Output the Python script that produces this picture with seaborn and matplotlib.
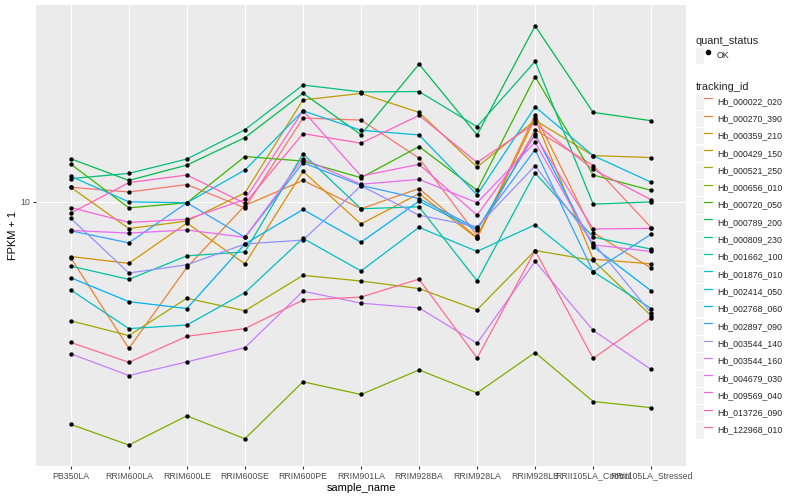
import numpy as np
import pandas as pd
import matplotlib
matplotlib.use('Agg')
import matplotlib.pyplot as plt
import seaborn as sns
from matplotlib.patches import Rectangle
from matplotlib.lines import Line2D
from matplotlib.legend_handler import HandlerTuple
from matplotlib.ticker import NullLocator, NullFormatter

# x categories
samples = ['PB350LA', 'RRIM600LA', 'RRIM600LE', 'RRIM600SE', 'RRIM600PE', 'RRIM901LA',
           'RRIM928BA', 'RRIM928LA', 'RRIM928LB', 'RRII105LA_Control', 'RRII105LA_Stressed']

# FPKM + 1 per gene, one value per sample
hb_000022_020 = [10.86, 10.57, 11.03, 9.64, 16.22, 16.03, 12.86, 8.21, 15.16, 12.32, 8.60]
hb_000270_390 = [7.22, 4.27, 6.83, 9.77, 11.30, 9.59, 10.78, 8.11, 16.53, 8.35, 6.80]
hb_000359_210 = [7.27, 6.99, 8.83, 6.97, 11.91, 8.78, 10.47, 8.08, 16.19, 7.16, 6.97]
hb_000429_150 = [10.86, 8.55, 8.93, 10.51, 18.02, 18.70, 16.76, 12.21, 16.00, 13.05, 12.90]
hb_000521_250 = [5.01, 4.60, 5.71, 5.31, 6.52, 6.31, 6.04, 5.34, 7.53, 7.11, 5.16]
hb_000656_010 = [2.75, 2.44, 2.89, 2.53, 3.52, 3.27, 3.77, 3.30, 4.17, 3.14, 3.03]
hb_000720_050 = [12.42, 9.64, 9.93, 12.98, 12.64, 11.48, 13.75, 10.67, 20.62, 11.66, 10.67]
hb_000789_200 = [12.81, 11.30, 12.35, 14.48, 18.73, 14.73, 22.17, 14.71, 27.65, 16.76, 15.97]
hb_000809_230 = [11.42, 11.77, 12.79, 15.16, 19.64, 18.87, 18.91, 15.43, 22.52, 9.85, 9.98]
hb_001662_100 = [6.88, 6.37, 7.30, 7.47, 13.18, 9.59, 9.70, 6.32, 11.80, 8.14, 7.59]
hb_001876_010 = [5.99, 4.79, 4.89, 5.90, 8.08, 6.69, 8.61, 7.49, 8.74, 6.66, 5.38]
hb_002414_050 = [11.57, 9.98, 9.93, 12.00, 16.91, 15.11, 14.71, 10.39, 17.31, 13.05, 11.18]
hb_002768_060 = [6.43, 5.60, 5.38, 7.82, 9.55, 7.90, 10.02, 8.48, 14.79, 7.70, 5.96]
hb_002897_090 = [8.44, 7.87, 9.93, 8.13, 12.52, 10.98, 10.17, 8.56, 13.51, 6.66, 8.28]
hb_003544_140 = [9.07, 6.61, 6.93, 7.82, 8.00, 10.95, 9.24, 8.64, 12.30, 7.88, 5.24]
hb_003544_160 = [4.14, 3.65, 3.95, 4.29, 5.95, 5.55, 5.40, 4.40, 7.07, 4.74, 3.78]
hb_004679_030 = [8.46, 8.33, 8.48, 8.13, 12.81, 11.05, 11.37, 9.93, 14.10, 7.78, 7.49]
hb_009569_040 = [9.66, 8.86, 9.02, 10.12, 16.91, 11.59, 12.40, 9.24, 14.65, 8.53, 8.56]
hb_013726_090 = [9.35, 11.16, 11.66, 9.89, 14.82, 14.02, 16.47, 12.54, 15.73, 12.04, 10.10]
hb_122968_010 = [4.42, 3.94, 4.58, 4.79, 5.65, 5.75, 6.38, 4.04, 7.53, 4.03, 5.10]

tracking_ids = ['Hb_000022_020', 'Hb_000270_390', 'Hb_000359_210', 'Hb_000429_150', 'Hb_000521_250',
                'Hb_000656_010', 'Hb_000720_050', 'Hb_000789_200', 'Hb_000809_230', 'Hb_001662_100',
                'Hb_001876_010', 'Hb_002414_050', 'Hb_002768_060', 'Hb_002897_090', 'Hb_003544_140',
                'Hb_003544_160', 'Hb_004679_030', 'Hb_009569_040', 'Hb_013726_090', 'Hb_122968_010']
series = [hb_000022_020, hb_000270_390, hb_000359_210, hb_000429_150, hb_000521_250,
          hb_000656_010, hb_000720_050, hb_000789_200, hb_000809_230, hb_001662_100,
          hb_001876_010, hb_002414_050, hb_002768_060, hb_002897_090, hb_003544_140,
          hb_003544_160, hb_004679_030, hb_009569_040, hb_013726_090, hb_122968_010]

# ggplot default hue palette for 20 levels
colors = ['#F8766D', '#EA8331', '#D89000', '#C09B00', '#A3A500', '#7CAE00', '#39B600', '#00BB4E',
          '#00BF7D', '#00C1A3', '#00BFC4', '#00BAE0', '#00B0F6', '#35A2FF', '#9590FF', '#C77CFF',
          '#E76BF3', '#FA62DB', '#FF62BC', '#FF6C91']

rows = []
for tid, vals in zip(tracking_ids, series):
    for s, f in zip(samples, vals):
        rows.append({'tracking_id': tid, 'sample_name': s, 'fpkm1': f, 'quant_status': 'OK'})
df = pd.DataFrame(rows)

sns.set_theme(style='darkgrid', rc={'axes.facecolor': '#EBEBEB', 'grid.color': 'white',
                                    'grid.linewidth': 0.8})
plt.rcParams['font.family'] = ['Liberation Sans', 'DejaVu Sans']

fig = plt.figure(figsize=(8, 5), dpi=100)
ax = fig.add_axes([36 / 800, 34 / 500, 650 / 800, 461 / 500])

sns.lineplot(data=df, x='sample_name', y='fpkm1', hue='tracking_id', palette=colors,
             estimator=None, sort=False, linewidth=0.9, legend=False, ax=ax)
sns.scatterplot(data=df, x='sample_name', y='fpkm1', color='black', s=10, linewidth=0,
                legend=False, ax=ax, zorder=3)

# log y axis like ggplot scale_y_log10 with 5% expansion
ax.set_yscale('log')
lo, hi = np.log10(df['fpkm1'].min()), np.log10(df['fpkm1'].max())
pad = (hi - lo) * 0.05
ax.set_ylim(10 ** (lo - pad), 10 ** (hi + pad))
ax.set_yticks([10])
ax.set_yticklabels(['10'])
ax.yaxis.set_minor_locator(NullLocator())
ax.yaxis.set_minor_formatter(NullFormatter())
ax.set_xlim(-0.6, len(samples) - 0.4)
ax.grid(True, which='major', color='white', linewidth=0.8)

for sp in ax.spines.values():
    sp.set_visible(False)
ax.tick_params(axis='both', length=2.5, width=0.8, color='#333333', labelcolor='#4D4D4D',
               labelsize=6.3, pad=1.5, bottom=True, left=True)
ax.set_xlabel('sample_name', fontsize=7.9, color='black', labelpad=2)
ax.set_ylabel('FPKM + 1', fontsize=7.9, color='black', labelpad=1.5)

# legends with grey key boxes
key_bg = dict(facecolor='#F2F2F2', edgecolor='white', linewidth=0.6)
leg_kw = dict(loc='upper left', frameon=False, fontsize=6.3, title_fontsize=7.9,
              handler_map={tuple: HandlerTuple(ndivide=None, pad=0)},
              handlelength=1.95, handleheight=2.62, handletextpad=0.5, borderpad=0,
              labelspacing=0.03, alignment='left')
h1 = [(Rectangle((0, 0), 1, 1, **key_bg),
       Line2D([], [], color='black', marker='o', markersize=3, linestyle='none'))]
leg1 = fig.legend(h1, ['OK'], title='quant_status', bbox_to_anchor=(691 / 800, 1 - 32 / 500), **leg_kw)
h2 = [(Rectangle((0, 0), 1, 1, **key_bg), Line2D([], [], color=c, linewidth=0.9)) for c in colors]
leg2 = fig.legend(h2, tracking_ids, title='tracking_id', bbox_to_anchor=(691 / 800, 1 - 78 / 500), **leg_kw)

fig.savefig('out.png', dpi=100)
